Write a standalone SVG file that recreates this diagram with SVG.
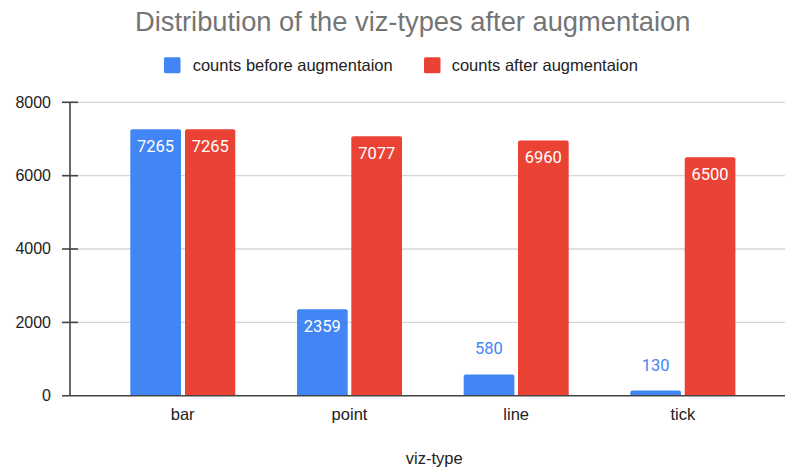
<svg xmlns="http://www.w3.org/2000/svg" width="785" height="469" viewBox="0 0 785 469">
<style>
.title{font-family:"Liberation Sans",Arial,sans-serif;font-size:27.3px;fill:#757575}
.leg{font-family:"Liberation Sans",Arial,sans-serif;font-size:16.5px;fill:#222}
.ax{font-family:"Liberation Sans",Arial,sans-serif;font-size:16px;fill:#222}
.xl{font-family:"Liberation Sans",Arial,sans-serif;font-size:16.5px;fill:#222;text-anchor:middle}
.val{font-family:Roboto,"Liberation Sans",sans-serif;font-size:16.5px;text-anchor:middle}
.in{fill:#ffffff}
.out{fill:#4285F4}
.blue{fill:#4285F4}
.red{fill:#EA4335}
.grid{stroke:#d6d6d6;stroke-width:1.3}
.axis{stroke:#444;stroke-width:1.6}
</style>
<rect width="785" height="469" fill="#ffffff"/>
<text class="title" x="135" y="31">Distribution of the viz-types after augmentaion</text>
<g id="legend">
<rect class="blue" x="164" y="57.3" width="16.5" height="16" rx="1.5"/>
<text class="leg" x="192.7" y="71">counts before augmentaion</text>
<rect class="red" x="424" y="57.3" width="16.5" height="16" rx="1.5"/>
<text class="leg" x="451.7" y="71">counts after augmentaion</text>
</g>
<g id="grid">
<line class="grid" x1="70" y1="102.3" x2="785" y2="102.3"/>
<line class="grid" x1="70" y1="175.7" x2="785" y2="175.7"/>
<line class="grid" x1="70" y1="249" x2="785" y2="249"/>
<line class="grid" x1="70" y1="322.4" x2="785" y2="322.4"/>
</g>
<g id="bars">
<path class="blue" d="M130.3,395.7V131.3a2,2 0 0 1 2,-2H179a2,2 0 0 1 2,2V395.7Z"/>
<path class="red" d="M185,395.7V131.3a2,2 0 0 1 2,-2H233.3a2,2 0 0 1 2,2V395.7Z"/>
<path class="blue" d="M297,395.7V311.2a2,2 0 0 1 2,-2H345.7a2,2 0 0 1 2,2V395.7Z"/>
<path class="red" d="M351.3,395.7V138.2a2,2 0 0 1 2,-2H400a2,2 0 0 1 2,2V395.7Z"/>
<path class="blue" d="M463.7,395.7V376.4a2,2 0 0 1 2,-2H512.4a2,2 0 0 1 2,2V395.7Z"/>
<path class="red" d="M518,395.7V142.4a2,2 0 0 1 2,-2H566.7a2,2 0 0 1 2,2V395.7Z"/>
<path class="blue" d="M630.3,395.7V392.4a2,2 0 0 1 2,-2H679a2,2 0 0 1 2,2V395.7Z"/>
<path class="red" d="M684.7,395.7V159.3a2,2 0 0 1 2,-2H733.4a2,2 0 0 1 2,2V395.7Z"/>
</g>
<g id="values">
<text class="val in" x="155.6" y="152.3">7265</text>
<text class="val in" x="210.2" y="152.3">7265</text>
<text class="val in" x="322.3" y="332.2">2359</text>
<text class="val in" x="376.7" y="159.2">7077</text>
<text class="val out" x="489" y="354">580</text>
<text class="val in" x="543.3" y="163.4">6960</text>
<text class="val out" x="655.6" y="370.7">130</text>
<text class="val in" x="710" y="180.3">6500</text>
</g>
<g id="axes">
<line class="axis" x1="70" y1="102.3" x2="70" y2="395.7"/>
<line class="axis" x1="62" y1="395.7" x2="785" y2="395.7"/>
<line class="axis" x1="62" y1="102.3" x2="78" y2="102.3"/>
<line class="axis" x1="62" y1="175.7" x2="78" y2="175.7"/>
<line class="axis" x1="62" y1="249" x2="78" y2="249"/>
<line class="axis" x1="62" y1="322.4" x2="78" y2="322.4"/>
</g>
<g id="ylabels" text-anchor="end">
<text class="ax" x="51" y="107.6">8000</text>
<text class="ax" x="51" y="181">6000</text>
<text class="ax" x="51" y="254.3">4000</text>
<text class="ax" x="51" y="327.7">2000</text>
<text class="ax" x="51" y="401">0</text>
</g>
<g id="xlabels">
<text class="xl" x="182.7" y="420">bar</text>
<text class="xl" x="349.5" y="420">point</text>
<text class="xl" x="516.2" y="420">line</text>
<text class="xl" x="682.8" y="420">tick</text>
<text class="xl" x="434.3" y="464">viz-type</text>
</g>
</svg>
